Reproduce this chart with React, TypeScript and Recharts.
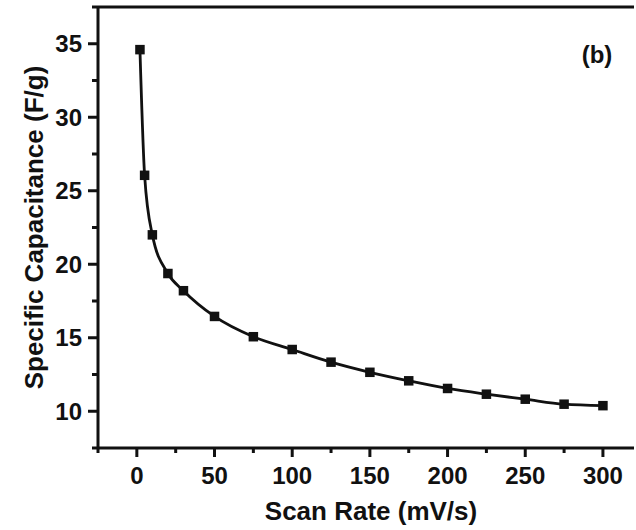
import React from "react";
import {
  LineChart,
  Line,
  XAxis,
  YAxis,
  ReferenceLine,
} from "recharts";

// Scan rate (mV/s) and specific capacitance (F/g)
const scanRates = [2, 5, 10, 20, 30, 50, 75, 100, 125, 150, 175, 200, 225, 250, 275, 300];
const capacitance = [
  34.6, 26.05, 22.0, 19.37, 18.2, 16.45, 15.07, 14.2, 13.34, 12.65, 12.07, 11.55, 11.16,
  10.82, 10.48, 10.38,
];
const xTicks = [-25, 0, 25, 50, 75, 100, 125, 150, 175, 200, 225, 250, 275, 300];
const yTicks = [7.5, 10, 12.5, 15, 17.5, 20, 22.5, 25, 27.5, 30, 32.5, 35, 37.5];

const data = scanRates.map((rate, i) => ({ rate, cap: capacitance[i] }));

const FONT = "'Liberation Sans', Arial, sans-serif";
const INK = "#111";

const XTick = (props: any) => {
  const { x, y, payload } = props;
  const major = payload.value % 50 === 0;
  return (
    <g>
      <line x1={x} x2={x} y1={y} y2={y + (major ? 9 : 5)} stroke={INK} strokeWidth={3} />
      {major && (
        <text x={x} y={y + 36} textAnchor="middle" fill={INK} fontSize={24} fontWeight="bold" fontFamily={FONT}>
          {payload.value}
        </text>
      )}
    </g>
  );
};

const YTick = (props: any) => {
  const { x, y, payload } = props;
  const major = payload.value % 5 === 0;
  return (
    <g>
      <line x1={x} x2={x - (major ? 10 : 6)} y1={y} y2={y} stroke={INK} strokeWidth={3} />
      {major && (
        <text x={x - 16} y={y + 8.5} textAnchor="end" fill={INK} fontSize={24} fontWeight="bold" fontFamily={FONT}>
          {payload.value}
        </text>
      )}
    </g>
  );
};

const SquareDot = (props: any) => {
  const { cx, cy } = props;
  if (cx == null || cy == null) return null;
  return <rect x={cx - 4.75} y={cy - 4.75} width={9.5} height={9.5} fill={INK} />;
};

export default function App() {
  return (
    <div style={{ position: "absolute", left: 0, top: 0, width: 636, height: 530, background: "#fff" }}>
      <LineChart width={636} height={530} data={data} margin={{ top: 7, right: 2, bottom: 0, left: 0 }}>
        <XAxis
          dataKey="rate"
          type="number"
          domain={[-25, 320]}
          ticks={xTicks}
          interval={0}
          allowDataOverflow
          height={82}
          tickSize={0}
          tickMargin={0}
          tickLine={false}
          tick={<XTick />}
          axisLine={{ stroke: INK, strokeWidth: 3 }}
          label={{
            content: (p: any) => {
              const vb = p.viewBox;
              return (
                <text
                  x={vb.x + vb.width / 2 + 5}
                  y={520}
                  textAnchor="middle"
                  fill={INK}
                  fontSize={26}
                  fontWeight="bold"
                  fontFamily={FONT}
                >
                  Scan Rate (mV/s)
                </text>
              );
            },
          }}
        />
        <YAxis
          type="number"
          domain={[7.5, 37.5]}
          ticks={yTicks}
          interval={0}
          allowDataOverflow
          width={98}
          tickSize={0}
          tickMargin={0}
          tickLine={false}
          tick={<YTick />}
          axisLine={{ stroke: INK, strokeWidth: 3 }}
          label={{
            content: (p: any) => {
              const vb = p.viewBox;
              const cy = vb.y + vb.height / 2;
              return (
                <text
                  x={34}
                  y={cy}
                  transform={`rotate(-90 34 ${cy})`}
                  textAnchor="middle"
                  dominantBaseline="central"
                  fill={INK}
                  fontSize={26}
                  fontWeight="bold"
                  fontFamily={FONT}
                >
                  Specific Capacitance (F/g)
                </text>
              );
            },
          }}
        />
        <ReferenceLine
          y={37.5}
          stroke={INK}
          strokeWidth={3}
          label={{
            content: () => (
              <text x={597} y={63} textAnchor="middle" fill={INK} fontSize={24} fontWeight="bold" fontFamily={FONT}>
                (b)
              </text>
            ),
          }}
        />
        <Line
          type="monotone"
          dataKey="cap"
          stroke={INK}
          strokeWidth={2.8}
          dot={<SquareDot />}
          activeDot={false}
          isAnimationActive={false}
        />
      </LineChart>
    </div>
  );
}
